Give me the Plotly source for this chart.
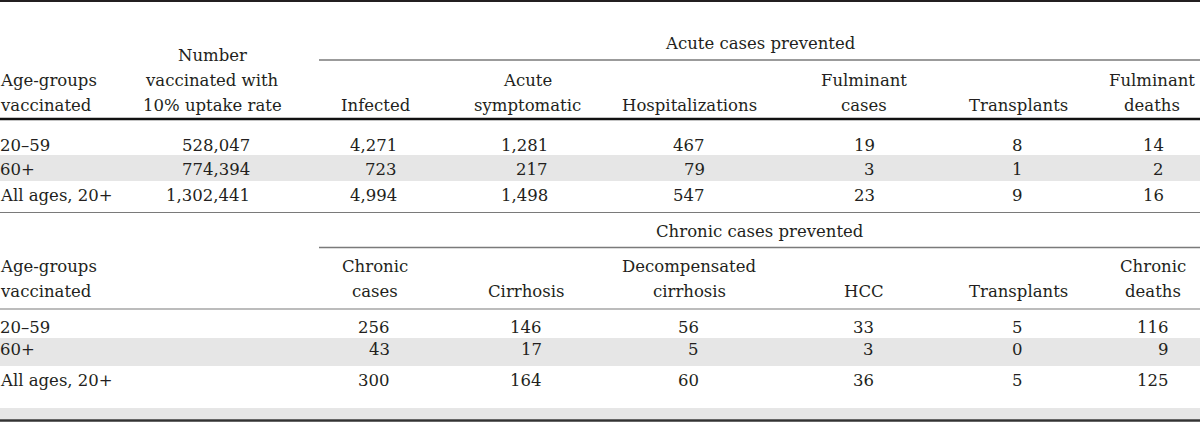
import plotly.graph_objects as go

# ---------------- data ----------------
row_labels = ["20\u201359", "60+", "All ages, 20+"]
number_vaccinated = ["528,047", "774,394", "1,302,441"]

acute_group_title = "Acute cases prevented"
acute_headers = [["Infected"], ["Acute", "symptomatic"], ["Hospitalizations"],
                 ["Fulminant", "cases"], ["Transplants"], ["Fulminant", "deaths"]]
acute_infected = ["4,271", "723", "4,994"]
acute_symptomatic = ["1,281", "217", "1,498"]
acute_hospitalizations = ["467", "79", "547"]
acute_fulminant_cases = ["19", "3", "23"]
acute_transplants = ["8", "1", "9"]
acute_fulminant_deaths = ["14", "2", "16"]

chronic_group_title = "Chronic cases prevented"
chronic_headers = [["Chronic", "cases"], ["Cirrhosis"], ["Decompensated", "cirrhosis"],
                   ["HCC"], ["Transplants"], ["Chronic", "deaths"]]
chronic_cases = ["256", "43", "300"]
chronic_cirrhosis = ["146", "17", "164"]
chronic_decompensated = ["56", "5", "60"]
chronic_hcc = ["33", "3", "36"]
chronic_transplants = ["5", "0", "5"]
chronic_deaths = ["116", "9", "125"]

first_col_header = ["Age-groups", "vaccinated"]
number_header = ["Number", "vaccinated with", "10% uptake rate"]

# ---------------- layout geometry ----------------
W, H = 1200, 422
FONT = "DejaVu Serif"
FS = 16.5
TXT = "#231f20"
LINE_GAP = 25
LEFT_X = 0
LEFT_SHIFT = -2

acute_centers = [376, 527, 689, 864, 1018, 1152]
acute_right = [399, 550, 707, 877, 1025, 1166]
chronic_centers = [375, 526, 689, 864, 1018, 1153]
chronic_right = [392, 544, 701, 876, 1025, 1171]
number_center, number_right = 212, 252

fig = go.Figure()
ann = []


def text(x, y, s, anchor="center"):
    ann.append(dict(x=x, y=y, xref="x", yref="y", text=s, showarrow=False,
                    xanchor=anchor, yanchor="middle",
                    xshift=LEFT_SHIFT if anchor == "left" else 0,
                    font=dict(family=FONT, size=FS, color=TXT)))


def header(x, bottom_y, lines, anchor="center"):
    n = len(lines)
    for i, s in enumerate(lines):
        text(x, bottom_y - (n - 1 - i) * LINE_GAP, s, anchor)


shapes = []


def hline(y, x0, x1, color, width):
    shapes.append(dict(type="line", xref="x", yref="y", x0=x0, x1=x1, y0=y, y1=y,
                       line=dict(color=color, width=width)))


def band(y0, y1):
    shapes.append(dict(type="rect", xref="x", yref="y", x0=0, x1=W, y0=y0, y1=y1,
                       fillcolor="#e6e6e6", line=dict(width=0), layer="below"))


# bands
band(155, 181)
band(338, 366)
band(408, 419)

# lines
hline(1, 0, W, "#231f20", 2)
hline(60, 319, W, "#7a7a7a", 1.5)
hline(119, 0, W, "#111111", 2.5)
hline(212.5, 0, W, "#7a7a7a", 1.2)
hline(247.5, 319, W, "#7a7a7a", 1.5)
hline(309, 0, W, "#7a7a7a", 1.2)
hline(420.5, 0, W, "#333333", 2.5)

# ---- acute section ----
top_header_bottom = 105
text(760, 43, acute_group_title)
header(LEFT_X, top_header_bottom, first_col_header, "left")
header(number_center, top_header_bottom, number_header)
for c, h in zip(acute_centers, acute_headers):
    header(c, top_header_bottom, h)

acute_cols = [acute_infected, acute_symptomatic, acute_hospitalizations,
              acute_fulminant_cases, acute_transplants, acute_fulminant_deaths]
acute_row_y = [145, 169, 195]
for r, y in enumerate(acute_row_y):
    text(LEFT_X, y, row_labels[r], "left")
    text(number_right, y, number_vaccinated[r], "right")
    for xr, col in zip(acute_right, acute_cols):
        text(xr, y, col[r], "right")

# ---- chronic section ----
bot_header_bottom = 291
text(760, 231, chronic_group_title)
header(LEFT_X, bot_header_bottom, first_col_header, "left")
for c, h in zip(chronic_centers, chronic_headers):
    header(c, bot_header_bottom, h)

chronic_cols = [chronic_cases, chronic_cirrhosis, chronic_decompensated,
                chronic_hcc, chronic_transplants, chronic_deaths]
chronic_row_y = [327, 349, 380]
for r, y in enumerate(chronic_row_y):
    text(LEFT_X, y, row_labels[r], "left")
    for xr, col in zip(chronic_right, chronic_cols):
        text(xr, y, col[r], "right")

fig.update_layout(
    width=W, height=H,
    margin=dict(l=0, r=0, t=0, b=0),
    paper_bgcolor="white", plot_bgcolor="white",
    xaxis=dict(range=[0, W], visible=False, fixedrange=True),
    yaxis=dict(range=[H, 0], visible=False, fixedrange=True),
    shapes=shapes, annotations=ann, showlegend=False,
)

fig.write_html("out.html", config={"displayModeBar": False},
               post_script="document.body.style.margin='0';document.body.style.overflow='hidden';")
